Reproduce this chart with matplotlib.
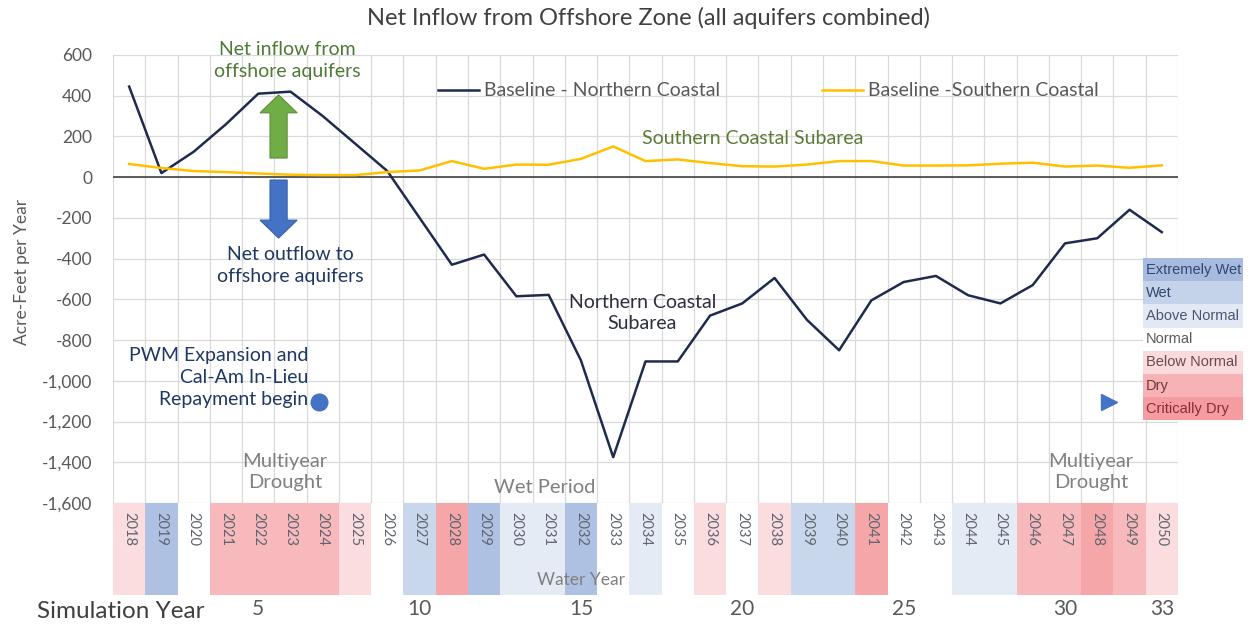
import numpy as np
import matplotlib.pyplot as plt
from matplotlib.patches import Rectangle

plt.rcParams['font.family'] = ['Lato', 'DejaVu Sans']

# water years and simulation years
water_years = list(range(2018, 2051))
north = [445, 20, 125, 260, 410, 420, 300, 165, 30, -200, -430, -380, -585, -578,
         -900, -1375, -905, -905, -680, -620, -495, -700, -850, -605, -515, -485,
         -580, -620, -530, -325, -300, -160, -270]
south = [65, 45, 30, 25, 18, 12, 10, 10, 25, 33, 79, 41, 62, 61, 90, 151, 79, 87,
         69, 54, 52, 62, 79, 79, 57, 57, 58, 66, 71, 52, 57, 46, 58]
# year type for each water year
year_type = ['BN', 'EW', 'N', 'D', 'D', 'D', 'D', 'BN', 'N', 'W', 'CD', 'EW', 'AN', 'AN',
             'EW', 'N', 'AN', 'N', 'BN', 'N', 'BN', 'W', 'W', 'CD', 'N', 'N', 'AN', 'AN',
             'D', 'D', 'CD', 'D', 'BN']
sim_ticks = [5, 10, 15, 20, 25, 30, 33]
yticks = [600, 400, 200, 0, -200, -400, -600, -800, -1000, -1200, -1400, -1600]

type_names = ['Extremely Wet', 'Wet', 'Above Normal', 'Normal', 'Below Normal', 'Dry', 'Critically Dry']
type_codes = ['EW', 'W', 'AN', 'N', 'BN', 'D', 'CD']
type_colors = ['#a6bbdf', '#c4d3ea', '#e2e9f4', '#ffffff', '#fbdadd', '#f7b2b5', '#f49ca0']
type_text = ['#34466e', '#34466e', '#4a5570', '#5a5a5a', '#6b4a4e', '#6b3a40', '#8a2a36']
cmap = dict(zip(type_codes, type_colors))

fig = plt.figure(figsize=(12.53, 6.27), dpi=100)
ax = fig.add_axes([0.0902, 0.1978, 0.8499, 0.7145])
x = np.arange(len(water_years))

grid_c = '#d9d9d9'
for b in np.arange(-0.5, len(water_years), 1.0):
    ax.axvline(b, color=grid_c, lw=0.9, zorder=0)
for t in yticks:
    ax.axhline(t, color=grid_c, lw=0.9, zorder=0)
ax.axhline(0, color='#595959', lw=1.4, zorder=1)

ax.plot(x, north, color='#1f2b4d', lw=1.8, label='Baseline - Northern Coastal', zorder=3)
ax.plot(x, south, color='#ffc000', lw=1.8, label='Baseline -Southern Coastal', zorder=3)

ax.set_xlim(-0.5, len(water_years) - 0.5)
ax.set_ylim(-1600, 600)
ax.set_yticks(yticks)
ax.set_yticklabels([f'{t:,}' for t in yticks])
ax.tick_params(axis='y', length=0, pad=15, labelsize=12.5, labelcolor='#595959')
ax.set_xticks([])
for s in ax.spines.values():
    s.set_visible(False)

fig.text(22 / 1253, 1 - 272 / 627, 'Acre-Feet per Year', rotation=90, va='center',
         ha='center', fontsize=12.5, color='#595959')
fig.text(0.5175, 0.971, 'Net Inflow from Offshore Zone (all aquifers combined)', ha='center',
         va='center', fontsize=17, color='#404040')

leg = ax.legend(loc='center left', bbox_to_anchor=(0.305, 0.92), ncol=2, frameon=False,
                fontsize=14, handlelength=2.1, handletextpad=0.3, columnspacing=5.2,
                borderpad=0, borderaxespad=0)
for t in leg.get_texts():
    t.set_color('#595959')

# annotations
ls = 1.35
ax.text(4.89, 572, 'Net inflow from\noffshore aquifers', ha='center', va='center',
        fontsize=14, color='#4e7a35', clip_on=False, linespacing=ls)
ax.arrow(4.63, 94, 0, 310, width=0.53, head_width=1.15, head_length=88,
         length_includes_head=True, fc='#70ad47', ec='#5a8f38', lw=0.8, zorder=4)
ax.arrow(4.63, -14, 0, -285, width=0.53, head_width=1.15, head_length=88,
         length_includes_head=True, fc='#4472c4', ec='#3560a8', lw=0.8, zorder=4)
ax.text(5.0, -432, 'Net outflow to\noffshore aquifers', ha='center', va='center',
        fontsize=14, color='#1f3864', linespacing=ls)
ax.text(15.88, 192, 'Southern Coastal Subarea', ha='left', va='center', fontsize=14,
        color='#5b7a35')
ax.text(15.9, -667, 'Northern Coastal\nSubarea', ha='center', va='center', fontsize=14,
        color='#2b2f3f', linespacing=ls)
ax.text(5.55, -985, 'PWM Expansion and\nCal-Am In-Lieu\nRepayment begin', ha='right',
        va='center', multialignment='right', fontsize=14, color='#1f3864', linespacing=ls)
ax.plot([5.88], [-1104], 'o', color='#4472c4', ms=12, zorder=5)
ax.plot([30.37], [-1104], '>', color='#4472c4', ms=11, zorder=5)
ax.text(4.83, -1448, 'Multiyear\nDrought', ha='center', va='center', fontsize=14.5,
        color='#808080', linespacing=ls)
ax.text(12.88, -1522, 'Wet Period', ha='center', va='center', fontsize=14.5, color='#808080')
ax.text(29.8, -1448, 'Multiyear\nDrought', ha='center', va='center', fontsize=14.5,
        color='#808080', linespacing=ls)

# water year band
ax2 = fig.add_axes([0.0902, 0.051, 0.8499, 0.1468])
ax2.bar(x, [1] * len(x), width=1.0, color=[cmap[t] for t in year_type], alpha=0.9)
ax2.set_xlim(-0.5, len(water_years) - 0.5)
ax2.set_ylim(0, 1)
for i, yr in enumerate(water_years):
    ax2.text(i, 0.9, str(yr), rotation=-90, ha='center', va='top', fontsize=10.5,
             color='#5f6470')
ax2.text(14.0, 0.16, 'Water Year', ha='center', va='center', fontsize=12.5, color='#7f7f7f')
ax2.set_yticks([])
ax2.set_xticks([s - 1 for s in sim_ticks])
ax2.set_xticklabels([str(s) for s in sim_ticks])
ax2.tick_params(axis='x', length=0, pad=3, labelsize=15, labelcolor='#595959')
for s in ax2.spines.values():
    s.set_visible(False)
fig.text(37 / 1253, 1 - 611 / 627, 'Simulation Year', ha='left', va='center', fontsize=17.5,
         color='#404040')

# year type key on the right
row_h = 23.2 / 627
top = 1 - 258 / 627
for i, (name, c, tc) in enumerate(zip(type_names, type_colors, type_text)):
    y0 = top - (i + 1) * row_h
    fig.add_artist(Rectangle((1143 / 1253, y0), 100 / 1253, row_h, transform=fig.transFigure,
                             fc=c, ec='none'))
    fig.text(1146 / 1253, y0 + row_h / 2, name, ha='left', va='center', fontsize=10.5,
             color=tc, family=['Liberation Sans', 'DejaVu Sans'])

fig.savefig('out.png', dpi=100)
